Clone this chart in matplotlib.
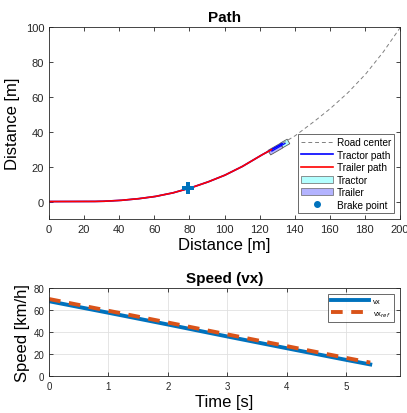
import numpy as np
import matplotlib.pyplot as plt
from matplotlib.patches import Polygon, Patch
from matplotlib.lines import Line2D

plt.rcParams['font.family'] = ['Liberation Sans', 'DejaVu Sans']

# road center
road_x = [0, 20, 30, 40, 50, 60, 70, 80, 90, 100, 110, 120, 130, 140, 150, 160, 170, 180, 190, 200]
road_y = [0, 0, 0.1, 0.6, 1.5, 2.8, 4.8, 7.6, 11, 15, 20, 26, 31.5, 37.5, 45, 53, 62, 72.5, 85, 99.5]
tractor_end = 133
trailer_end = 127
brake_x, brake_y = 79, 7.5

# vehicle poses: center x, center y, heading (deg), length, width
tractor_pose = (134.5, 33.3, 30, 4.5, 3.0)
trailer_pose = (129.0, 30.0, 30, 8.0, 3.0)

# speed data
time_s = [0, 1, 2, 3, 4, 5, 5.4]
vx = [68, 57.5, 46.8, 35.9, 25.2, 14.6, 10.5]
vx_ref = [70, 59.3, 48.6, 37.8, 27.1, 16.4, 12.2]

gray = '#262626'
c_blue = '#0072BD'
c_orange = '#D95319'


def box(cx, cy, hdg, L, W):
    a = np.deg2rad(hdg)
    u = np.array([np.cos(a), np.sin(a)])
    n = np.array([-np.sin(a), np.cos(a)])
    c = np.array([cx, cy])
    pts = [c + u * L / 2 + n * W / 2, c - u * L / 2 + n * W / 2,
           c - u * L / 2 - n * W / 2, c + u * L / 2 - n * W / 2]
    return np.array(pts)


def style(ax):
    for s in ax.spines.values():
        s.set_color(gray)
        s.set_linewidth(0.6)
    ax.tick_params(direction='in', top=True, right=True, colors=gray,
                   labelsize=8, length=3, width=0.6, labelcolor=gray)


fig = plt.figure(figsize=(4.07, 4.14), dpi=100)

ax1 = fig.add_axes([0.1204, 0.4686, 0.8624, 0.4638])
rx = np.linspace(0, 200, 400)
ry = np.interp(rx, road_x, road_y)
ax1.plot(rx, ry, '--', color='0.5', lw=0.7, dashes=(4, 3))
m = rx <= tractor_end
ax1.plot(rx[m], ry[m], color='blue', lw=1.2)
m = rx <= trailer_end
ax1.plot(rx[m], ry[m], color='red', lw=1.2)
ax1.add_patch(Polygon(box(*trailer_pose), closed=True, fc='#B3B3FF', ec='0.35', lw=0.6))
ax1.add_patch(Polygon(box(*tractor_pose), closed=True, fc='#B3FFFF', ec='0.35', lw=0.6))
ax1.plot([trailer_pose[0] - 2, tractor_pose[0]], [trailer_pose[1] - 1.1, tractor_pose[1]], color='blue', lw=0.9)
ax1.plot(brake_x, brake_y, 'P', color=c_blue, ms=8, mew=0)
ax1.set_xlim(0, 200)
ax1.set_ylim(-10, 100)
ax1.set_xticks(np.arange(0, 201, 20))
ax1.set_yticks(np.arange(0, 101, 20))
ax1.set_xlabel('Distance [m]', fontsize=12, labelpad=2)
ax1.set_ylabel('Distance [m]', fontsize=12, labelpad=4)
ax1.set_title('Path', fontsize=11, fontweight='bold', pad=4)
style(ax1)
handles = [
    Line2D([], [], color='0.5', ls='--', lw=0.7, dashes=(4, 3)),
    Line2D([], [], color='blue', lw=1.2),
    Line2D([], [], color='red', lw=1.2),
    Patch(fc='#B3FFFF', ec='0.4', lw=0.5),
    Patch(fc='#B3B3FF', ec='0.4', lw=0.5),
    Line2D([], [], ls='none', marker='o', color=c_blue, ms=4),
]
labels = ['Road center', 'Tractor path', 'Trailer path', 'Tractor', 'Trailer', 'Brake point']
leg = ax1.legend(handles, labels, loc='lower right', fontsize=7.2, frameon=True, fancybox=False,
                 edgecolor=gray, handlelength=3.2, handletextpad=0.4, borderpad=0.3,
                 labelspacing=0.25, borderaxespad=0.6)
leg.get_frame().set_linewidth(0.6)

ax2 = fig.add_axes([0.1204, 0.0894, 0.8624, 0.2125])
ax2.grid(True, color='0.88', lw=0.6)
ax2.set_axisbelow(True)
ax2.plot(time_s, vx, color=c_blue, lw=2.8, label='vx')
ax2.plot(time_s, vx_ref, '--', color=c_orange, lw=2.8, dashes=(3, 2.2), label='vx$_{ref}$')
ax2.set_xlim(0, 5.9)
ax2.set_ylim(0, 80)
ax2.set_xticks(range(6))
ax2.set_yticks(range(0, 81, 20))
ax2.set_xlabel('Time [s]', fontsize=12, labelpad=2)
ax2.set_ylabel('Speed [km/h]', fontsize=12, labelpad=2)
ax2.set_title('Speed (vx)', fontsize=11, fontweight='bold', pad=4)
style(ax2)
ax2.tick_params(labelsize=7)
leg2 = ax2.legend(loc='upper right', fontsize=5.5, frameon=True, fancybox=False, edgecolor=gray,
                  handlelength=5, handletextpad=0.5, borderpad=0.4, labelspacing=0.6,
                  borderaxespad=0.8)
leg2.get_frame().set_linewidth(0.6)

fig.savefig('out.png', dpi=100)
